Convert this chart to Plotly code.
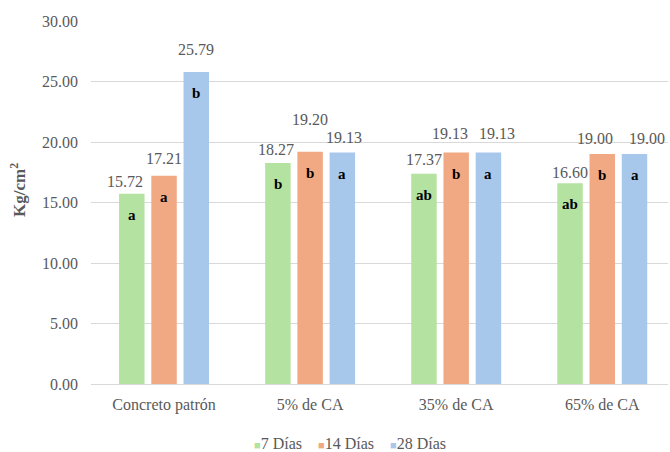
import plotly.graph_objects as go

# Categories and series
categories = ["Concreto patrón", "5% de CA", "35% de CA", "65% de CA"]
series_names = ["7 Días", "14 Días", "28 Días"]
values_7 = [15.72, 18.27, 17.37, 16.60]
values_14 = [17.21, 19.20, 19.13, 19.00]
values_28 = [25.79, 19.13, 19.13, 19.00]
letters_7 = ["a", "b", "ab", "ab"]
letters_14 = ["a", "b", "b", "b"]
letters_28 = ["b", "a", "a", "a"]
y_ticks = [0, 5, 10, 15, 20, 25, 30]

series_values = [values_7, values_14, values_28]
series_letters = [letters_7, letters_14, letters_28]
colors = ["#b4e2a0", "#f1a983", "#a7c8eb"]

# Label nudges (px) so neighbouring value labels don't collide, per series
label_lift = [
    [12, 13, 14, 11],
    [17, 32, 19, 16],
    [22, 15, 19, 16],
]
label_nudge = [
    [-7, -2, 0, 0],
    [0, 0, -6, -7],
    [0, 2, 9, 12],
]

FONT = "Liberation Serif"
GRAY = "#595959"

W, H = 670, 452
ML, MR, MT, MB = 91, 2, 21, 68
X_RANGE = [-0.5, 3.45]
BARGAP, BARGROUPGAP = 0.338, 0.21

plot_w = W - ML - MR
plot_h = H - MT - MB


def px_x(px):
    """Page pixel x -> plot-area fraction."""
    return (px - ML) / plot_w


def px_y(py):
    """Page pixel y (from top) -> plot-area fraction."""
    return 1 - (py - MT) / plot_h


fig = go.Figure()
for name, vals, col in zip(series_names, series_values, colors):
    fig.add_trace(go.Bar(
        x=categories, y=vals, name=name,
        marker=dict(color=col, line=dict(width=0)),
        hoverinfo="x+y+name",
    ))

# Pixel offset of each bar within its category group
cat_px = plot_w / (X_RANGE[1] - X_RANGE[0])
slot_px = cat_px * (1 - BARGAP) / len(series_names)
offsets = [(i - (len(series_names) - 1) / 2) * slot_px for i in range(len(series_names))]

annotations = []
for s, (vals, lets) in enumerate(zip(series_values, series_letters)):
    for c, cat in enumerate(categories):
        annotations.append(dict(
            x=cat, y=vals[c], xref="x", yref="y", text=f"{vals[c]:.2f}",
            showarrow=False, xshift=offsets[s] + label_nudge[s][c],
            yshift=label_lift[s][c],
            font=dict(family=FONT, size=16, color=GRAY),
        ))
        annotations.append(dict(
            x=cat, y=vals[c], xref="x", yref="y", text=f"<b>{lets[c]}</b>",
            showarrow=False, xshift=offsets[s], yshift=-21,
            font=dict(family=FONT, size=15, color="#000000"),
        ))

# Axis title
annotations.append(dict(
    x=px_x(18), y=px_y(190), xref="paper", yref="paper",
    xanchor="center", yanchor="middle", textangle=-90,
    text="<b>Kg/cm<sup>2</sup></b>", showarrow=False,
    font=dict(family=FONT, size=17, color=GRAY),
))

# Legend row
legend_text = "&nbsp;&nbsp;&nbsp;&nbsp;".join(
    f'<span style="color:{col};font-size:11px">■</span>{name}'
    for name, col in zip(series_names, colors)
)
annotations.append(dict(
    x=px_x(350), y=px_y(444), xref="paper", yref="paper",
    xanchor="center", yanchor="middle", text=legend_text, showarrow=False,
    font=dict(family=FONT, size=16, color=GRAY),
))

fig.update_layout(
    width=W, height=H,
    margin=dict(l=ML, r=MR, t=MT, b=MB, pad=0),
    paper_bgcolor="white", plot_bgcolor="white",
    barmode="group", bargap=BARGAP, bargroupgap=BARGROUPGAP,
    showlegend=False,
    font=dict(family=FONT, size=16, color=GRAY),
    annotations=annotations,
    xaxis=dict(
        range=X_RANGE, showgrid=False, showline=True, linecolor="#d9d9d9",
        linewidth=1, ticks="", tickfont=dict(family=FONT, size=16, color=GRAY),
        ticklabelstandoff=6, fixedrange=True,
    ),
    yaxis=dict(
        range=[0, 30], tickvals=y_ticks,
        ticktext=[f"{v:.2f}" for v in y_ticks],
        showgrid=True, gridcolor="#d9d9d9", gridwidth=1, zeroline=False,
        showline=False, ticks="", ticklabelstandoff=12,
        tickfont=dict(family=FONT, size=16, color=GRAY), fixedrange=True,
    ),
)

fig.write_html("out.html")
